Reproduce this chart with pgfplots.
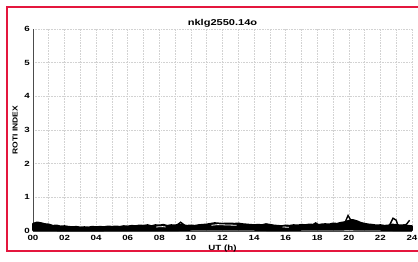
\documentclass[border=0pt]{standalone}
\usepackage{pgfplots}
\pgfplotsset{compat=1.18}
\usepackage{fontspec}
\setmainfont{Liberation Sans}
\definecolor{frame}{RGB}{228,22,62}
\begin{document}
\begin{tikzpicture}[x=1pt,y=1pt]
\useasboundingbox (0,0) rectangle (418,262);
\draw[frame,line width=2pt] (418,255) -- (7,255) -- (7,11) -- (418,11);
\begin{axis}[
  at={(33pt,31pt)}, anchor=south west,
  scale only axis, width=379pt, height=202pt,
  xmin=0, xmax=24, ymin=0, ymax=6,
  xtick={0,2,...,24},
  xticklabels={00,02,04,06,08,10,12,14,16,18,20,22,24},
  minor xtick={1,3,...,23},
  ytick={0,1,...,6},
  grid=both,
  major grid style={gray!35, line width=0.6pt, densely dotted},
  minor grid style={gray!35, line width=0.6pt, densely dotted},
  axis x line*=bottom, axis y line*=left,
  axis line style={gray!60!black, line width=0.6pt},
  tick style={draw=none},
  tick label style={font=\bfseries\fontsize{7.5}{8}\selectfont, xscale=1.3},
  /pgf/number format/assume math mode=true,
  xticklabel style={yshift=-1pt},
  yticklabel style={xshift=1pt},
  every axis title shift=0pt,
  title={\bfseries nklg2550.14o},
  title style={font=\fontsize{8.5}{9}\selectfont, xscale=1.3, at={(0.5,1)}, anchor=center, yshift=6pt},
  xlabel={\bfseries UT (h)},
  xlabel style={font=\fontsize{7.5}{8}\selectfont, xscale=1.3, yshift=3pt},
  ylabel={\bfseries ROTI INDEX},
  ylabel style={font=\fontsize{8.5}{9}\selectfont, yscale=0.85, yshift=-1pt},
  clip=false,
]
% filled band: upper envelope then lower envelope reversed
\addplot[black, fill=black, line width=1.5pt, line join=round] coordinates {
(0,0.22)(0.25,0.26)(0.5,0.24)(0.75,0.21)(1,0.2)(1.25,0.16)(1.5,0.17)(1.75,0.14)
(2,0.15)(2.25,0.13)(2.5,0.12)(2.75,0.13)(3,0.11)(3.25,0.12)(3.5,0.11)(3.75,0.13)
(4,0.12)(4.25,0.13)(4.5,0.12)(4.75,0.14)(5,0.13)(5.25,0.14)(5.5,0.13)(5.75,0.15)
(6,0.14)(6.25,0.16)(6.5,0.15)(6.75,0.17)(7,0.16)(7.25,0.18)(7.5,0.15)(7.75,0.18)
(8,0.17)(8.25,0.19)(8.5,0.16)(8.75,0.18)(9,0.17)(9.25,0.2)(9.5,0.18)(9.75,0.16)
(10,0.17)(10.25,0.16)(10.5,0.18)(10.75,0.19)(11,0.2)(11.25,0.22)(11.5,0.24)(11.75,0.23)
(12,0.22)(12.25,0.23)(12.5,0.23)(12.75,0.22)(13,0.23)(13.25,0.21)(13.5,0.2)(13.75,0.19)
(14,0.18)(14.25,0.19)(14.5,0.18)(14.75,0.21)(15,0.19)(15.25,0.17)(15.5,0.16)(15.75,0.15)
(16,0.17)(16.25,0.16)(16.5,0.18)(16.75,0.17)(17,0.19)(17.25,0.18)(17.5,0.2)(17.75,0.19)
(18,0.18)(18.25,0.2)(18.5,0.21)(18.75,0.2)(19,0.23)(19.25,0.22)(19.5,0.25)(19.75,0.27)
(20,0.31)(20.25,0.33)(20.5,0.3)(20.75,0.25)(21,0.22)(21.25,0.2)(21.5,0.19)(21.75,0.17)
(22,0.18)(22.25,0.16)(22.5,0.17)(22.75,0.2)(23,0.19)(23.25,0.17)(23.5,0.18)(23.75,0.16)
(24,0.15)
(24,0.02)(23,0.02)(22,0.03)(21,0.03)(20,0.04)(19,0.03)(18,0.03)(17,0.03)(16,0.02)
(15,0.02)(14,0.03)(13,0.03)(12,0.03)(11,0.03)(10,0.03)(9,0.02)(8,0.02)(7,0.02)
(6,0.02)(5,0.02)(4,0.01)(3,0.01)(2,0.01)(1,0.02)(0,0.02)
} -- cycle;
% spikes
\addplot[black, line width=1.4pt] coordinates {(19.75,0.24)(19.95,0.46)(20.1,0.34)(20.4,0.3)};
\addplot[black, line width=1.4pt] coordinates {(22.55,0.15)(22.8,0.38)(23.0,0.32)(23.1,0.18)};
\addplot[black, line width=1.4pt] coordinates {(23.45,0.15)(23.65,0.2)(23.85,0.32)};
\addplot[black, line width=1.4pt] coordinates {(9.05,0.15)(9.35,0.26)(9.6,0.17)};
\addplot[black, line width=1.4pt] coordinates {(17.6,0.15)(17.9,0.24)(18.1,0.18)};
% white loops
\addplot[white, line width=0.8pt] coordinates {(11.3,0.17)(11.7,0.19)(12.2,0.18)(12.9,0.17)};
\addplot[white, line width=0.8pt] coordinates {(7.8,0.12)(8.2,0.13)(8.4,0.12)};
\addplot[white, line width=0.8pt] coordinates {(15.8,0.12)(16.2,0.11)};
\addplot[white, line width=0.8pt] coordinates {(22.85,0.22)(22.95,0.24)};
\end{axis}
\end{tikzpicture}
\end{document}
